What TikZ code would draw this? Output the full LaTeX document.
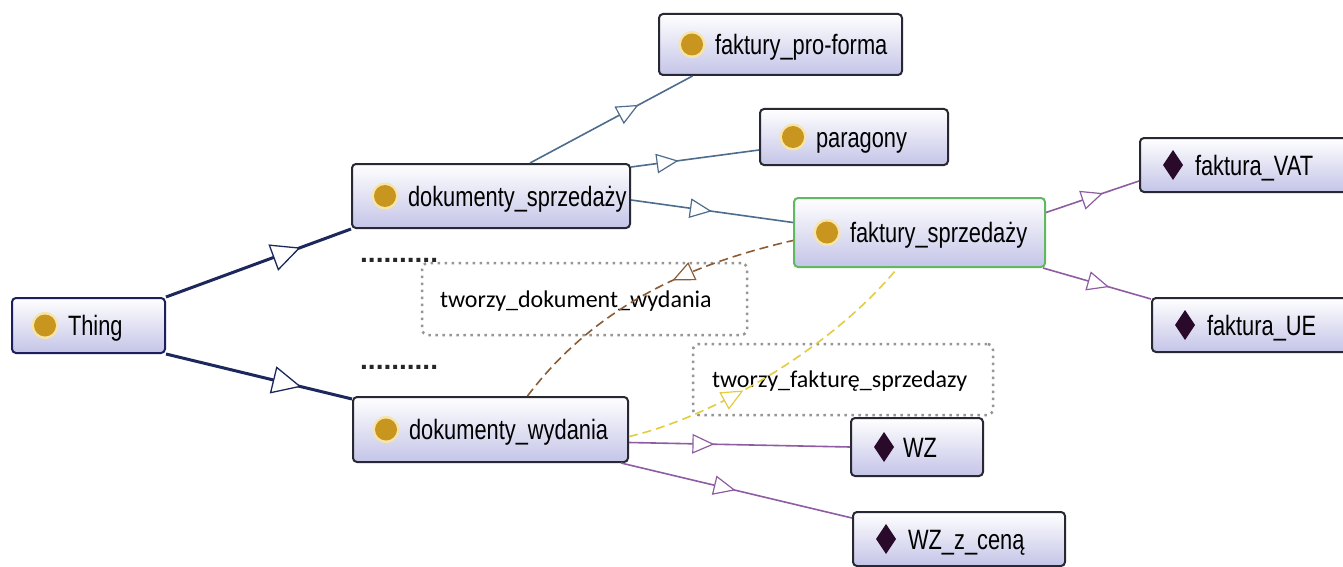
\documentclass[tikz,border=0pt]{standalone}
\usepackage{fontspec}
\usetikzlibrary{calc,decorations.markings}
\newfontfamily\lblfont[FakeStretch=0.78]{Liberation Sans}
\newfontfamily\propfont{Carlito}
\newfontfamily\dotfont{Liberation Sans}

\definecolor{boxline}{RGB}{40,40,52}
\definecolor{thingline}{RGB}{28,30,96}
\definecolor{selline}{RGB}{96,184,96}
\definecolor{lav}{RGB}{196,196,232}
\definecolor{ballcol}{RGB}{200,150,30}
\definecolor{halocol}{RGB}{246,228,168}
\definecolor{diamcol}{RGB}{42,10,42}
\definecolor{navyedge}{RGB}{28,40,92}
\definecolor{steeledge}{RGB}{78,108,140}
\definecolor{purpleedge}{RGB}{142,92,162}
\definecolor{brownedge}{RGB}{140,92,52}
\definecolor{yellowedge}{RGB}{228,204,64}
\definecolor{dotgray}{RGB}{150,150,150}

\tikzset{
  cls/.style={draw=boxline, line width=2pt, rounded corners=4pt,
    top color=white, bottom color=lav, inner sep=0pt,
    text height=21pt, text depth=1pt, align=left,
    font={\lblfont\fontsize{28pt}{32pt}\selectfont}},
  propbox/.style={draw=dotgray, line width=2.5pt, dash pattern=on 2.5pt off 4.5pt,
    rounded corners=6pt, inner sep=0pt, align=left,
    text height=17pt, text depth=1pt,
    font={\propfont\fontsize{24pt}{28pt}\selectfont}},
  dotrow/.style={inner sep=0pt, text=black!85,
    font={\dotfont\bfseries\fontsize{28pt}{32pt}\selectfont}},
  bigtri/.style={postaction={decorate}, decoration={markings,
    mark=at position #1 with {\draw[solid, fill=white, line width=1.3pt]
      (0,0) -- (-27,13) -- (-27,-13) -- cycle;}}},
  smalltri/.style={postaction={decorate}, decoration={markings,
    mark=at position #1 with {\draw[solid, fill=white, line width=1.2pt]
      (0,0) -- (-20,9) -- (-20,-9) -- cycle;}}},
  backtri/.style={postaction={decorate}, decoration={markings,
    mark=at position #1 with {\draw[solid, fill=white, line width=1.2pt]
      (0,0) -- (20,9) -- (20,-9) -- cycle;}}},
  isa/.style={color=navyedge, line width=3pt},
  subedge/.style={color=steeledge, line width=1.6pt},
  instedge/.style={color=purpleedge, line width=1.6pt},
  propedge/.style={line width=1.6pt, dash pattern=on 9pt off 5pt},
}

\newcommand\classdot[1]{%
  \fill[halocol] ($(#1.west)+(34,0)$) circle (13.5pt);
  \fill[ballcol] ($(#1.west)+(34,0)$) circle (11pt);}
\newcommand\indivmark[1]{%
  \fill[diamcol] ($(#1.west)+(34,0)$) +(0,-15) -- +(10,0) -- +(0,15) -- +(-10,0) -- cycle;}

\begin{document}
\begin{tikzpicture}[x=1pt, y=-1pt]
\useasboundingbox (0,0) rectangle (1343,567);
\fill[white] (0,0) rectangle (1343,567);
\clip (0,0) rectangle (1343,567);

% classes
\node[cls, draw=thingline, text width=153pt, minimum height=55pt] (thing) at (88.5,325.5) {\hspace*{56pt}Thing};
\node[cls, text width=278pt, minimum height=64pt] (dsp) at (491,196) {\hspace*{56pt}dokumenty\_sprzedaży};
\node[cls, text width=275pt, minimum height=65pt] (dwy) at (490.5,429.5) {\hspace*{56pt}dokumenty\_wydania};
\node[cls, text width=243pt, minimum height=61pt] (pfo) at (780.5,44.5) {\hspace*{56pt}faktury\_pro-forma};
\node[cls, text width=188pt, minimum height=56pt] (par) at (854,137) {\hspace*{56pt}paragony};
\node[cls, draw=selline, text width=251pt, minimum height=69pt] (fsp) at (919.5,232.5) {\hspace*{56pt}faktury\_sprzedaży};

% individuals
\node[cls, text width=210pt, minimum height=54pt] (fvat) at (1245,165) {\hspace*{55pt}faktura\_VAT};
\node[cls, text width=198pt, minimum height=54pt] (fue) at (1251,325) {\hspace*{55pt}faktura\_UE};
\node[cls, text width=132pt, minimum height=58pt] (wz) at (917,447) {\hspace*{52pt}WZ};
\node[cls, text width=212pt, minimum height=54pt] (wzc) at (959,539) {\hspace*{55pt}WZ\_z\_ceną};

\foreach \n in {thing,dsp,dwy,pfo,par,fsp} {\classdot{\n}}
\foreach \n in {fvat,fue,wz,wzc} {\indivmark{\n}}

% property labels and elided rows
\node[propbox, text width=325pt, minimum height=72pt] (lbdoc) at (584.5,299) {\hspace*{18pt}tworzy\_dokument\_wydania};
\node[propbox, text width=300pt, minimum height=71pt] (lbfak) at (843,379.5) {\hspace*{19pt}tworzy\_fakturę\_sprzedazy};
\node[dotrow, anchor=base west] (dotsa) at (360,262) {..........};
\node[dotrow, anchor=base west] (dotsb) at (360,369) {..........};

% subclass links
\draw[isa, bigtri=0.72] (thing.north east) -- (dsp.south west);
\draw[isa, bigtri=0.72] (thing.south east) -- ($(dwy.north west)+(0,3)$);
\draw[subedge, smalltri=0.66] ($(dsp.north)+(39,0)$) -- ($(pfo.south)+(-88,0)$);
\draw[subedge, smalltri=0.36] ($(dsp.north east)+(0,4)$) -- ($(par.west)+(0,13)$);
\draw[subedge, smalltri=0.49] ($(dsp.east)+(0,4)$) -- ($(fsp.west)+(0,-10)$);

% instance links
\draw[instedge, smalltri=0.6] ($(fsp.east)+(0,-20)$) -- ($(fvat.south west)+(0,-12)$);
\draw[instedge, smalltri=0.6] ($(fsp.south east)+(-3,0)$) -- ($(fue.north west)+(0,2)$);
\draw[instedge, smalltri=0.38] ($(dwy.east)+(0,13)$) -- (wz.west);
\draw[instedge, smalltri=0.49] ($(dwy.south east)+(-8,0)$) -- ($(wzc.west)+(0,-21)$);

% object properties
\draw[propedge, color=brownedge, backtri=0.6]
  ($(dwy.north)+(37,0)$) .. controls (600,300) and (700,262) .. ($(fsp.west)+(0,8)$);
\draw[propedge, color=yellowedge, smalltri=0.38]
  ($(dwy.east)+(0,7)$) .. controls (710,418) and (830,350) .. ($(fsp.south)+(-22,0)$);
\end{tikzpicture}
\end{document}
